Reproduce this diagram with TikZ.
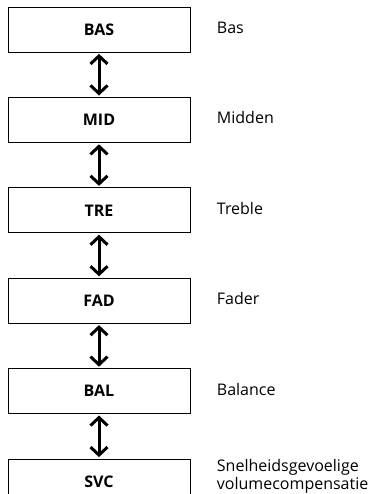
\documentclass[tikz,border=0pt]{standalone}
\usepackage{fontspec}
\setmainfont{Open Sans}
\usetikzlibrary{arrows.meta,positioning}

\begin{document}
\begin{tikzpicture}[font=\fontsize{16}{18}\selectfont,
  >={Straight Barb[length=8pt, width=17pt]},
  modebox/.style={draw, line width=0.8pt, minimum width=182pt, minimum height=45pt,
    font=\fontsize{16}{19}\selectfont\bfseries},
  desc/.style={anchor=west, align=left},
  updown/.style={<->, line width=3pt, shorten >=1.5pt, shorten <=1.5pt},
  node distance=44.6pt]
\useasboundingbox (0,0) rectangle (374pt,-494pt);
\clip (0,0) rectangle (374pt,-494pt);
% mode boxes
\node[modebox] (bas) at (99pt,-29.5pt) {BAS};
\node[modebox, below=of bas] (mid) {MID};
\node[modebox, below=of mid] (tre) {TRE};
\node[modebox, below=of tre] (fad) {FAD};
\node[modebox, below=of fad] (bal) {BAL};
\node[modebox, below=of bal] (svc) {SVC};
% descriptions
\node[desc, right=23pt of bas, yshift=2pt] (basTxt) {Bas};
\node[desc, right=23pt of mid, yshift=2pt] (midTxt) {Midden};
\node[desc, right=23pt of tre, yshift=2pt] (treTxt) {Treble};
\node[desc, right=23pt of fad, yshift=2pt] (fadTxt) {Fader};
\node[desc, right=23pt of bal, yshift=2pt] (balTxt) {Balance};
\node[desc, right=23pt of svc, yshift=5pt] (svcTxt) {Snelheidsgevoelige\\volumecompensatie};
% arrows
\draw[updown] (bas) -- (mid);
\draw[updown] (mid) -- (tre);
\draw[updown] (tre) -- (fad);
\draw[updown] (fad) -- (bal);
\draw[updown] (bal) -- (svc);
\end{tikzpicture}
\end{document}
